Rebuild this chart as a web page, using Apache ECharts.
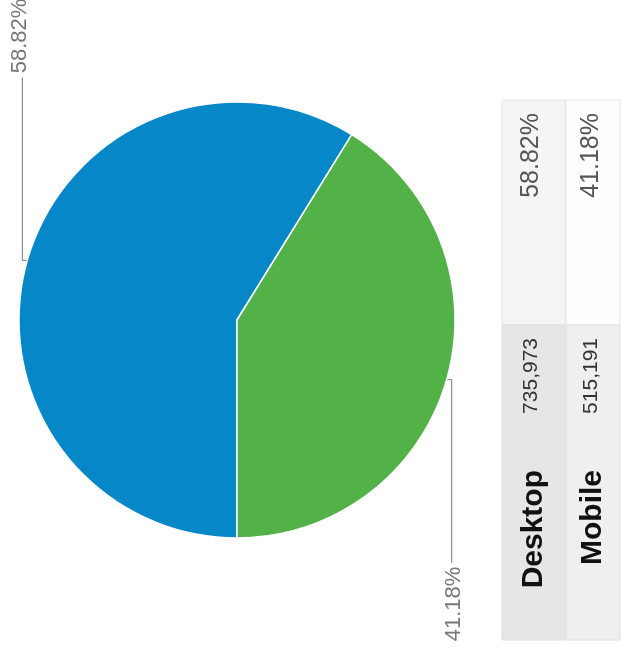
<!DOCTYPE html>
<html>
	<head>
		<meta charset="UTF-8" />
		<script src="https://cdn.jsdelivr.net/npm/echarts@6/dist/echarts.min.js"></script>
		<title>Desktop vs Mobile</title>
		<style>
			body {
				margin: 0;
				background-color: #fff;
			}
			#main {
				width: 623px;
				height: 659px;
			}
		</style>
	</head>
	<body>
		<div id="main"></div>
	</body>
</html>

<script>
	// data
	var names = ['Desktop', 'Mobile']
	var visits = [735973, 515191]
	var colors = ['#0688c8', '#52b248']

	var total = visits.reduce(function (a, b) { return a + b }, 0)
	function pctText(v) {
		return ((v / total) * 100).toFixed(2) + '%'
	}

	var CENTER = [237, 320]
	var STUB = 5 // short horizontal bit of the label line
	var LINE_LEN = 183 // vertical part of the label line

	var myChart = echarts.init(document.getElementById('main'))

	// table on the right, drawn rotated like the picture
	var colX = [502, 566]
	var colW = [63, 54]
	var pctFill = ['#f5f5f5', '#fdfdfd']
	var bodyFill = ['#e6e6e6', '#efefef']
	var graphics = []
	names.forEach(function (name, i) {
		var cx = colX[i] + colW[i] / 2
		graphics.push({
			type: 'rect',
			shape: { x: colX[i], y: 100, width: colW[i], height: 225 },
			style: { fill: pctFill[i], stroke: '#e6e6e6', lineWidth: 1 },
		})
		graphics.push({
			type: 'rect',
			shape: { x: colX[i], y: 325, width: colW[i], height: 315 },
			style: { fill: bodyFill[i], stroke: '#e0e0e0', lineWidth: 1 },
		})
		graphics.push({
			type: 'text',
			x: cx - 2,
			y: 113,
			rotation: Math.PI / 2,
			style: {
				text: pctText(visits[i]),
				font: '25px "Liberation Sans", Arial, sans-serif',
				fill: '#555',
				align: 'right',
				verticalAlign: 'middle',
			},
		})
		graphics.push({
			type: 'text',
			x: cx - 2,
			y: 338,
			rotation: Math.PI / 2,
			style: {
				text: visits[i].toLocaleString('en-US'),
				font: '21px "Liberation Sans", Arial, sans-serif',
				fill: '#333',
				align: 'right',
				verticalAlign: 'middle',
			},
		})
		graphics.push({
			type: 'text',
			x: cx,
			y: 470,
			rotation: Math.PI / 2,
			style: {
				text: name,
				font: 'bold 30px "Liberation Sans", Arial, sans-serif',
				fill: '#111',
				align: 'right',
				verticalAlign: 'middle',
			},
		})
	})

	var option = {
		animation: false,
		backgroundColor: '#fff',
		graphic: graphics,
		series: [
			{
				type: 'pie',
				center: CENTER,
				radius: 218,
				startAngle: 270,
				clockwise: true,
				avoidLabelOverlap: false,
				itemStyle: {
					borderColor: '#fff',
					borderWidth: 1.5,
				},
				label: {
					show: true,
					position: 'outside',
					formatter: '{d}%',
					rotate: 90,
					fontSize: 22,
					fontFamily: '"Liberation Sans", Arial, sans-serif',
					color: '#777',
				},
				labelLine: {
					show: true,
					lineStyle: { color: '#777', width: 1 },
				},
				labelLayout: function (params) {
					var p0 = params.labelLinePoints[0]
					var side = p0[0] < CENTER[0] ? -1 : 1
					var x1 = p0[0] + side * STUB
					var y2 = p0[1] + side * LINE_LEN
					return {
						x: x1 + side * 2,
						y: y2 + side * 4,
						rotate: 90,
						align: side < 0 ? 'left' : 'right',
						verticalAlign: 'middle',
						labelLinePoints: [p0, [x1, p0[1]], [x1, y2]],
					}
				},
				data: names.map(function (n, i) {
					return { name: n, value: visits[i], itemStyle: { color: colors[i] } }
				}),
			},
		],
	}

	myChart.setOption(option)
</script>
